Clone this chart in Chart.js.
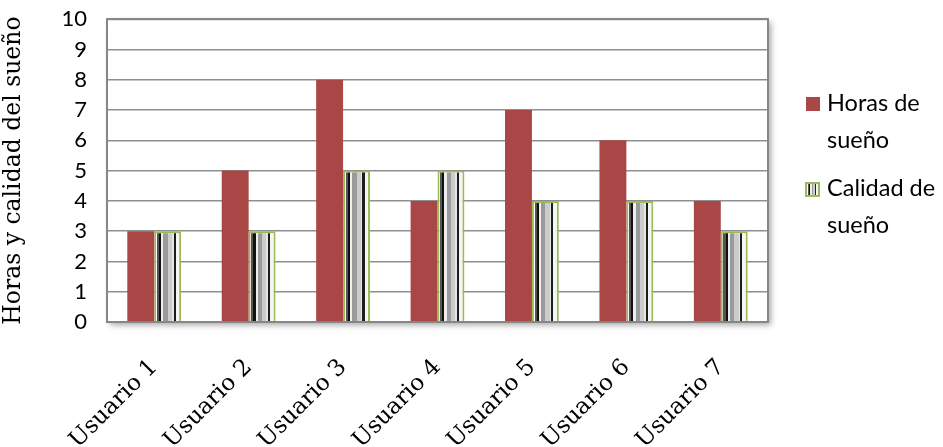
<!DOCTYPE html>
<html>
<head>
<meta charset="utf-8">
<script src="https://cdn.jsdelivr.net/npm/chart.js@4"></script>
<style>
  html, body { margin: 0; padding: 0; background: #fff; }
  #wrap { position: relative; width: 943px; height: 447px; }
  #chart { position: absolute; left: 0; top: 0; }
  .leg { position: absolute; font-family: Lato, "Noto Sans", sans-serif; font-size: 23.5px; line-height: 37px; color: #000; }
  .sw { position: absolute; width: 14px; height: 14px; }
  .sw.red { background: #a84745; }
  .sw.stripe { width: 11px; height: 11px; border: 2px solid #9bbb59;
    background: linear-gradient(90deg, #fff 0 10%, #555 10% 20%, #111 20% 30%, #eee 30% 42%, #999 42% 58%, #ccc 58% 70%, #222 70% 80%, #f5f5f5 80% 100%); }
</style>
</head>
<body>
<div id="wrap">
  <canvas id="chart" width="943" height="447"></canvas>
  <div class="sw red" style="left:806px; top:97px;"></div>
  <div class="leg" style="left:827px; top:84px;">Horas de<br>sueño</div>
  <div class="sw stripe" style="left:805px; top:182px;"></div>
  <div class="leg" style="left:827px; top:169px;">Calidad de<br>sueño</div>
</div>
<script>
/* Horas y calidad del sueño por usuario */
var USERS = ['Usuario 1', 'Usuario 2', 'Usuario 3', 'Usuario 4', 'Usuario 5', 'Usuario 6', 'Usuario 7'];
var HORAS = [3, 5, 8, 4, 7, 6, 4];
var CALIDAD = [3, 3, 5, 5, 4, 4, 3];
var SERIES = ['Horas de sueño', 'Calidad de sueño'];
var Y_MIN = 0, Y_MAX = 10, Y_STEP = 1;

var CAT_PCT = 0.57;
var SANS = 'Lato, "Noto Sans", sans-serif';
var SERIF = '"DejaVu Serif", "Liberation Serif", serif';

// striped fill for the second series, one gradient per bar
function stripeFill(c) {
  var chart = c.chart, x = chart.scales && chart.scales.x;
  if (!x || !x.width) { return '#bbbbbb'; }
  var bw = (x.width / USERS.length) * CAT_PCT / 2;
  var left = x.getPixelForValue(c.dataIndex);
  var g = chart.ctx.createLinearGradient(left, 0, left + bw, 0);
  var stops = [
    [0.00, '#ffffff'], [0.10, '#ffffff'], [0.10, '#555555'], [0.18, '#555555'],
    [0.18, '#111111'], [0.26, '#111111'], [0.26, '#eeeeee'], [0.34, '#eeeeee'],
    [0.34, '#9a9a9a'], [0.50, '#9a9a9a'], [0.50, '#cccccc'], [0.66, '#cccccc'],
    [0.66, '#e6e6e6'], [0.72, '#e6e6e6'], [0.72, '#1c1c1c'], [0.80, '#1c1c1c'],
    [0.80, '#f5f5f5'], [1.00, '#f5f5f5']
  ];
  stops.forEach(function (s) { g.addColorStop(s[0], s[1]); });
  return g;
}

// plot-area frame with soft shadow, like the spreadsheet original
var frame = {
  id: 'frame',
  beforeDraw: function (chart) {
    var a = chart.chartArea, ctx = chart.ctx;
    ctx.save();
    ctx.shadowColor = 'rgba(0,0,0,0.35)';
    ctx.shadowBlur = 6;
    ctx.shadowOffsetX = 3;
    ctx.shadowOffsetY = 3;
    ctx.fillStyle = '#fff';
    ctx.fillRect(a.left, a.top, a.right - a.left, a.bottom - a.top);
    ctx.restore();
  },
  afterDatasetsDraw: function (chart) {
    var a = chart.chartArea, ctx = chart.ctx;
    ctx.save();
    ctx.strokeStyle = '#868686';
    ctx.lineWidth = 2;
    ctx.strokeRect(a.left, a.top, a.right - a.left, a.bottom - a.top);
    ctx.restore();
  }
};

new Chart(document.getElementById('chart'), {
  type: 'bar',
  data: {
    labels: USERS,
    datasets: [
      { label: SERIES[0], data: HORAS, backgroundColor: '#a84745', borderWidth: 0 },
      { label: SERIES[1], data: CALIDAD, backgroundColor: stripeFill, borderColor: '#9bbb59', borderWidth: 2 }
    ]
  },
  options: {
    responsive: false,
    animation: false,
    layout: { padding: { left: 0, right: 175, top: 0, bottom: 0 } },
    datasets: { bar: { categoryPercentage: CAT_PCT, barPercentage: 1 } },
    plugins: { legend: { display: false }, tooltip: { enabled: false } },
    scales: {
      x: {
        grid: { display: false, drawTicks: false },
        border: { display: false },
        ticks: {
          color: '#000', minRotation: 45, maxRotation: 45, padding: 32,
          font: { family: SERIF, size: 23 }
        },
        afterFit: function (s) { s.height = 125; }
      },
      y: {
        min: Y_MIN, max: Y_MAX,
        grid: { color: '#8f8f8f', lineWidth: 1.6, drawTicks: true, tickLength: 14, tickColor: 'rgba(0,0,0,0)' },
        border: { display: false },
        ticks: {
          stepSize: Y_STEP, color: '#000', padding: 6, autoSkip: false,
          font: { family: SANS, size: 22 }
        },
        title: {
          display: true, text: 'Horas y calidad del sueño', color: '#000',
          font: { family: SERIF, size: 23.5 }, padding: { top: 0, bottom: 6 }
        },
        afterFit: function (s) { s.width = 107; }
      }
    }
  },
  plugins: [frame]
});
</script>
</body>
</html>
